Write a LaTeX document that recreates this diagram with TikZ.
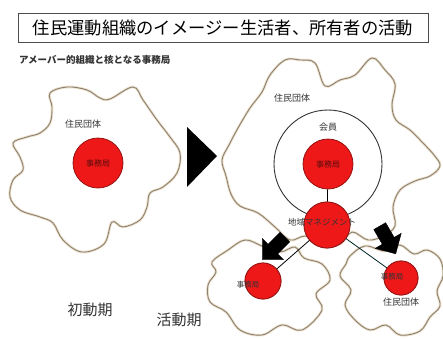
\documentclass[tikz,border=0pt]{standalone}
\usepackage{fontspec}
\setmainfont{Noto Sans CJK JP}
\usetikzlibrary{shapes.arrows}
\definecolor{amb}{RGB}{140,128,112}
\definecolor{ambhalo}{RGB}{236,224,204}
\definecolor{redf}{RGB}{238,24,24}
\definecolor{redd}{RGB}{150,20,20}
\tikzset{
  amoeba/.style={draw=amb, line width=0.9pt, smooth cycle, tension=0.6},
  halo/.style={draw=ambhalo, line width=2.6pt, smooth cycle, tension=0.6},
  redc/.style={circle, fill=redf, draw=redd, line width=0.8pt, inner sep=0pt},
  lbl/.style={font=\fontsize{9}{10}\selectfont, text=black!80, inner sep=0pt},
  inlbl/.style={font=\fontsize{8}{9}\selectfont, text=redd!60!black, inner sep=0pt},
  blk/.style={single arrow, fill=black, draw=black, minimum height=32pt, minimum width=30pt, single arrow head extend=5pt, inner sep=4pt},
  conn/.style={draw=black, line width=0.8pt}
}
\begin{document}
\begin{tikzpicture}[x=1pt,y=-1pt]
\useasboundingbox (0,0) rectangle (443,338);
\fill[white] (0,0) rectangle (443,338);
% title
\node[draw=black!70, line width=0.8pt, minimum width=410pt, minimum height=29pt, inner sep=0pt, font=\fontsize{17.3}{18}\selectfont] (title) at (223,27.5) {住民運動組織のイメージー生活者、所有者の活動};
\node[anchor=west, inner sep=0pt, font=\fontsize{9.5}{10}\selectfont\bfseries, text=black!80] (sub) at (19,60) {アメーバー的組織と核となる事務局};
% amoebas
\foreach \st in {halo,amoeba}{
\draw[\st] plot coordinates {(50,93) (67,87) (87,90) (100,98) (110,99) (133,87) (143,100) (157,120) (170,137) (180,153) (177,173) (163,187) (150,193) (147,207) (140,220) (123,227) (112,222) (104,244) (82,252) (63,240) (53,223) (40,217) (20,210) (10,197) (13,180) (23,170) (20,157) (13,143) (27,137) (40,133) (50,123) (52,107)};
\draw[\st] plot coordinates {(238,128) (250,108) (262,92) (270,75) (285,60) (300,60) (315,63) (325,86) (340,80) (355,75) (372,58) (385,70) (395,84) (392,105) (396,120) (410,130) (422,142) (434,155) (440,166) (430,176) (415,181) (400,190) (393,207) (395,226) (383,236) (368,240) (352,232) (340,244) (325,240) (305,236) (290,240) (275,227) (258,213) (240,206) (231,194) (226,176) (222,160) (229,145)};
\draw[\st] plot coordinates {(228,250) (245,240) (262,246) (280,252) (295,247) (304,258) (322,264) (330,280) (316,294) (322,310) (302,330) (282,325) (262,335) (240,330) (226,312) (210,302) (208,285) (216,272) (212,262)};
\draw[\st] plot coordinates {(350,256) (365,246) (385,251) (400,245) (414,254) (427,250) (440,259) (443,276) (437,291) (440,306) (430,317) (420,331) (400,335) (386,325) (370,330) (355,320) (345,305) (351,290) (340,276) (346,264)};
}
% triangle arrow
\fill[black] (187,127) -- (187,187) -- (217,156) -- cycle;
% left org
\node[redc, minimum size=50pt] (jl) at (98,163) {};
\node[inlbl] at (jl) {事務局};
\node[lbl] (dl) at (83,124) {住民団体};
% right org
\node[lbl] (dr) at (292,98) {住民団体};
\node[circle, draw=black!80, line width=0.9pt, minimum size=108pt, inner sep=0pt] (kaiin) at (328,164) {};
\node[lbl] (kl) at (328,127) {会員};
\node[redc, minimum size=50pt] (jc) at (328,164) {};
\node[inlbl] at (jc) {事務局};
\node[redc, minimum size=46pt] (chi) at (327,225) {};
\node[redc, minimum size=36pt] (sl) at (263,281) {};
\node[redc, minimum size=34pt] (sr) at (401,278) {};
\draw[conn] (jc) -- (chi);
\draw[conn] (chi.center) -- (sl.center);
\draw[conn, draw=black!70!teal] (chi.center) -- (sr.center);
\node[redc, minimum size=46pt] at (chi) {};
\node[redc, minimum size=36pt] at (sl) {};
\node[redc, minimum size=34pt] at (sr) {};
\node[lbl, font=\fontsize{8.5}{9}\selectfont] (cl) at (322,222) {地域マネジメント};
\node[inlbl, text=black!80, font=\fontsize{7.5}{8}\selectfont] at (248,285) {事務局};
\node[inlbl, text=black!80, font=\fontsize{7.5}{8}\selectfont] at (392,277) {事務局};
\node[lbl] (dbr) at (401,302) {住民団体};
% block arrows
\node[blk, rotate=225] (ba1) at (276,246) {};
\node[blk, rotate=-60] (ba2) at (386,237) {};
% phase labels
\node[inner sep=0pt, font=\fontsize{15}{16}\selectfont, text=black!80] (p1) at (90,310) {初動期};
\node[inner sep=0pt, font=\fontsize{15}{16}\selectfont, text=black!80] (p2) at (179,320) {活動期};
\end{tikzpicture}
\end{document}
